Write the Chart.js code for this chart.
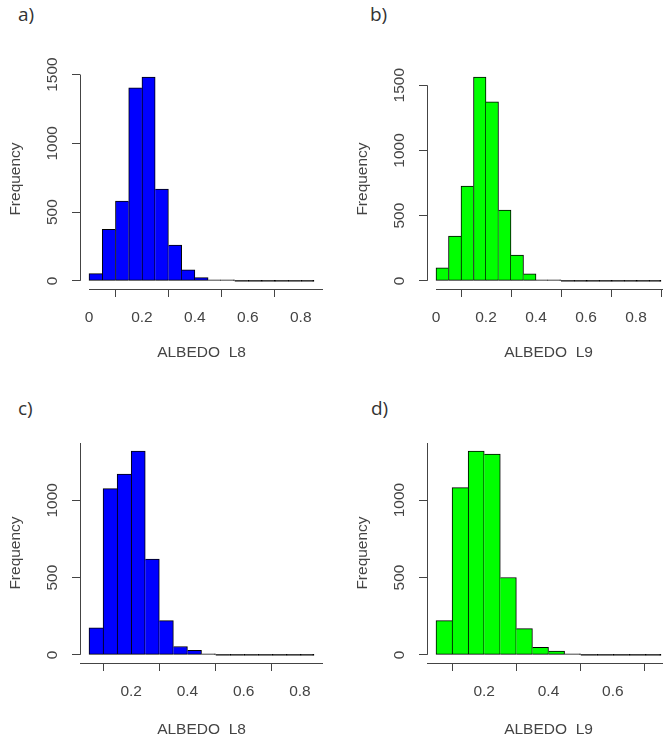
<!DOCTYPE html>
<html>
<head>
<meta charset="utf-8">
<script src="https://cdn.jsdelivr.net/npm/chart.js@4.4.1/dist/chart.umd.min.js"></script>
<style>
  html, body { margin: 0; padding: 0; background: #fff; width: 663px; height: 743px; overflow: hidden; }
  .panel { position: absolute; }
  .tag { position: absolute; font-family: "Open Sans", sans-serif; font-size: 19px; line-height: 19px; color: #333; }
</style>
</head>
<body>
<div class="tag" style="left:18px; top:5px">a)</div>
<div class="tag" style="left:370px; top:5px">b)</div>
<div class="tag" style="left:18px; top:399px">c)</div>
<div class="tag" style="left:371px; top:399px">d)</div>
<canvas id="ca" class="panel" style="left:0; top:0" width="330" height="370"></canvas>
<canvas id="cb" class="panel" style="left:330px; top:0" width="345" height="370"></canvas>
<canvas id="cc" class="panel" style="left:0; top:370px" width="330" height="373"></canvas>
<canvas id="cd" class="panel" style="left:330px; top:370px" width="345" height="373"></canvas>
<script>
// bin edges and counts
const edgesA = [0, 0.05, 0.1, 0.15, 0.2, 0.25, 0.3, 0.35, 0.4, 0.45, 0.5, 0.55, 0.6, 0.65, 0.7, 0.75, 0.8, 0.85];
const countsA = [53, 374, 580, 1403, 1481, 668, 260, 80, 24, 7, 6, 0, 0, 0, 0, 0, 0];

const edgesB = [0, 0.05, 0.1, 0.15, 0.2, 0.25, 0.3, 0.35, 0.4, 0.45, 0.5, 0.55, 0.6, 0.65, 0.7, 0.75, 0.8, 0.85, 0.9];
const countsB = [100, 343, 727, 1562, 1372, 543, 197, 54, 8, 4, 0, 0, 0, 0, 0, 0, 0, 0];

const edgesC = [0.05, 0.1, 0.15, 0.2, 0.25, 0.3, 0.35, 0.4, 0.45, 0.5, 0.55, 0.6, 0.65, 0.7, 0.75, 0.8, 0.85];
const countsC = [175, 1076, 1169, 1318, 619, 221, 54, 30, 7, 0, 0, 0, 0, 0, 0, 0];

const edgesD = [0.05, 0.1, 0.15, 0.2, 0.25, 0.3, 0.35, 0.4, 0.45, 0.5, 0.55, 0.6, 0.65, 0.7, 0.75];
const countsD = [221, 1080, 1316, 1297, 500, 169, 48, 24, 5, 0, 0, 0, 0, 0];

const xTicksTop = [0, 0.2, 0.4, 0.6, 0.8];
const xTicksC = [0.2, 0.4, 0.6, 0.8];
const xTicksD = [0.2, 0.4, 0.6];
const yTicksTop = [0, 500, 1000, 1500];
const yTicksBottom = [0, 500, 1000];

const BLUE = "#0000FF";
const GREEN = "#00FF00";
const INK = "#444";
const font = { family: "'Liberation Sans', Arial, sans-serif", size: 15.5 };

// R draws its axis lines only over part of the plot region, so draw them here
const rAxes = {
  id: "rAxes",
  afterDraw(chart, args, opts) {
    const { ctx, chartArea, scales } = chart;
    const pick = (s, v) => (v === "min" ? s.min : v === "max" ? s.max : v);
    const al = (p) => Math.round(p - 0.5) + 0.5;
    ctx.save();
    ctx.strokeStyle = INK;
    ctx.lineWidth = 1;
    ctx.beginPath();
    const lx = al(chartArea.left);
    ctx.moveTo(lx, scales.y.getPixelForValue(pick(scales.y, opts.yLine[0])));
    ctx.lineTo(lx, scales.y.getPixelForValue(pick(scales.y, opts.yLine[1])));
    const by = al(chartArea.bottom);
    ctx.moveTo(scales.x.getPixelForValue(pick(scales.x, opts.xLine[0])), by);
    ctx.lineTo(scales.x.getPixelForValue(pick(scales.x, opts.xLine[1])), by);
    ctx.stroke();
    ctx.restore();
  }
};

function histogram(id, edges, counts, xTicks, yTicks, color, xLabel, geo) {
  const data = counts.map((c, i) => ({ x: (edges[i] + edges[i + 1]) / 2, y: c }));
  const xPad = (edges[edges.length - 1] - edges[0]) * 0.04;
  const yTop = Math.max(...counts);

  new Chart(document.getElementById(id), {
    type: "bar",
    data: {
      datasets: [{
        data: data,
        // bars flatter than 2px are only outline in R, so keep them black
        backgroundColor: (ctx) => {
          const y = ctx.chart.scales.y;
          if (!y) return color;
          const h = Math.abs(y.getPixelForValue(counts[ctx.dataIndex]) - y.getPixelForValue(0));
          return h < 2 ? "#000" : color;
        },
        borderColor: "#000",
        borderSkipped: false,
        borderWidth: (ctx) => {
          const i = ctx.dataIndex;
          const v = counts[i];
          const prev = i > 0 ? counts[i - 1] : -1;
          const next = i < counts.length - 1 ? counts[i + 1] : -1;
          return { top: 1, bottom: 1, left: prev <= v ? 1 : 0, right: next < v ? 1 : 0 };
        },
        minBarLength: 1,
        barPercentage: 1,
        categoryPercentage: 1
      }]
    },
    options: {
      responsive: false,
      animation: false,
      layout: { padding: { left: 0, top: geo.top, right: geo.right, bottom: 0 } },
      plugins: {
        legend: { display: false },
        tooltip: { enabled: false },
        rAxes: { yLine: geo.yLine, xLine: geo.xLine }
      },
      scales: {
        x: {
          type: "linear",
          offset: false,
          min: edges[0] - xPad,
          max: edges[edges.length - 1] + xPad,
          afterBuildTicks: (s) => { s.ticks = xTicks.map((v) => ({ value: v })); },
          afterFit: (s) => { s.height = geo.xHeight; },
          grid: { display: true, drawOnChartArea: false, drawTicks: true, tickLength: 8, color: INK },
          border: { display: false },
          ticks: { autoSkip: false, minRotation: 0, maxRotation: 0, padding: 11, color: INK, font: font, callback: (v) => String(v) },
          title: { display: true, text: xLabel, color: INK, font: font, padding: { top: 0, bottom: geo.xTitlePad } }
        },
        y: {
          min: -0.04 * yTop,
          max: 1.04 * yTop,
          afterBuildTicks: (s) => { s.ticks = yTicks.map((v) => ({ value: v })); },
          afterFit: (s) => { s.width = geo.yWidth; },
          grid: { display: true, drawOnChartArea: false, drawTicks: true, tickLength: 8, color: INK },
          border: { display: false },
          ticks: { autoSkip: false, minRotation: 90, maxRotation: 90, crossAlign: "center", padding: 2, color: INK, font: font, callback: (v) => String(v) },
          title: { display: true, text: "Frequency", color: INK, font: font, padding: { top: geo.yTitlePad, bottom: 0 } }
        }
      }
    },
    plugins: [rAxes]
  });
}

histogram("ca", edgesA, countsA, xTicksTop, yTicksTop, BLUE, "ALBEDO  L8",
  { top: 69, right: 7, xHeight: 81, yWidth: 80, yTitlePad: 6, xTitlePad: 8, yLine: [0, 1500], xLine: [0, "max"] });
histogram("cb", edgesB, countsB, xTicksTop, yTicksTop, GREEN, "ALBEDO  L9",
  { top: 69, right: 5, xHeight: 81, yWidth: 97, yTitlePad: 23, xTitlePad: 8, yLine: [0, 1500], xLine: [0, "max"] });
histogram("cc", edgesC, countsC, xTicksC, yTicksBottom, BLUE, "ALBEDO  L8",
  { top: 73, right: 7, xHeight: 80, yWidth: 80, yTitlePad: 6, xTitlePad: 4, yLine: [0, "max"], xLine: ["min", "max"] });
histogram("cd", edgesD, countsD, xTicksD, yTicksBottom, GREEN, "ALBEDO  L9",
  { top: 73, right: 5, xHeight: 80, yWidth: 97, yTitlePad: 23, xTitlePad: 4, yLine: [0, "max"], xLine: ["min", "max"] });
</script>
</body>
</html>
